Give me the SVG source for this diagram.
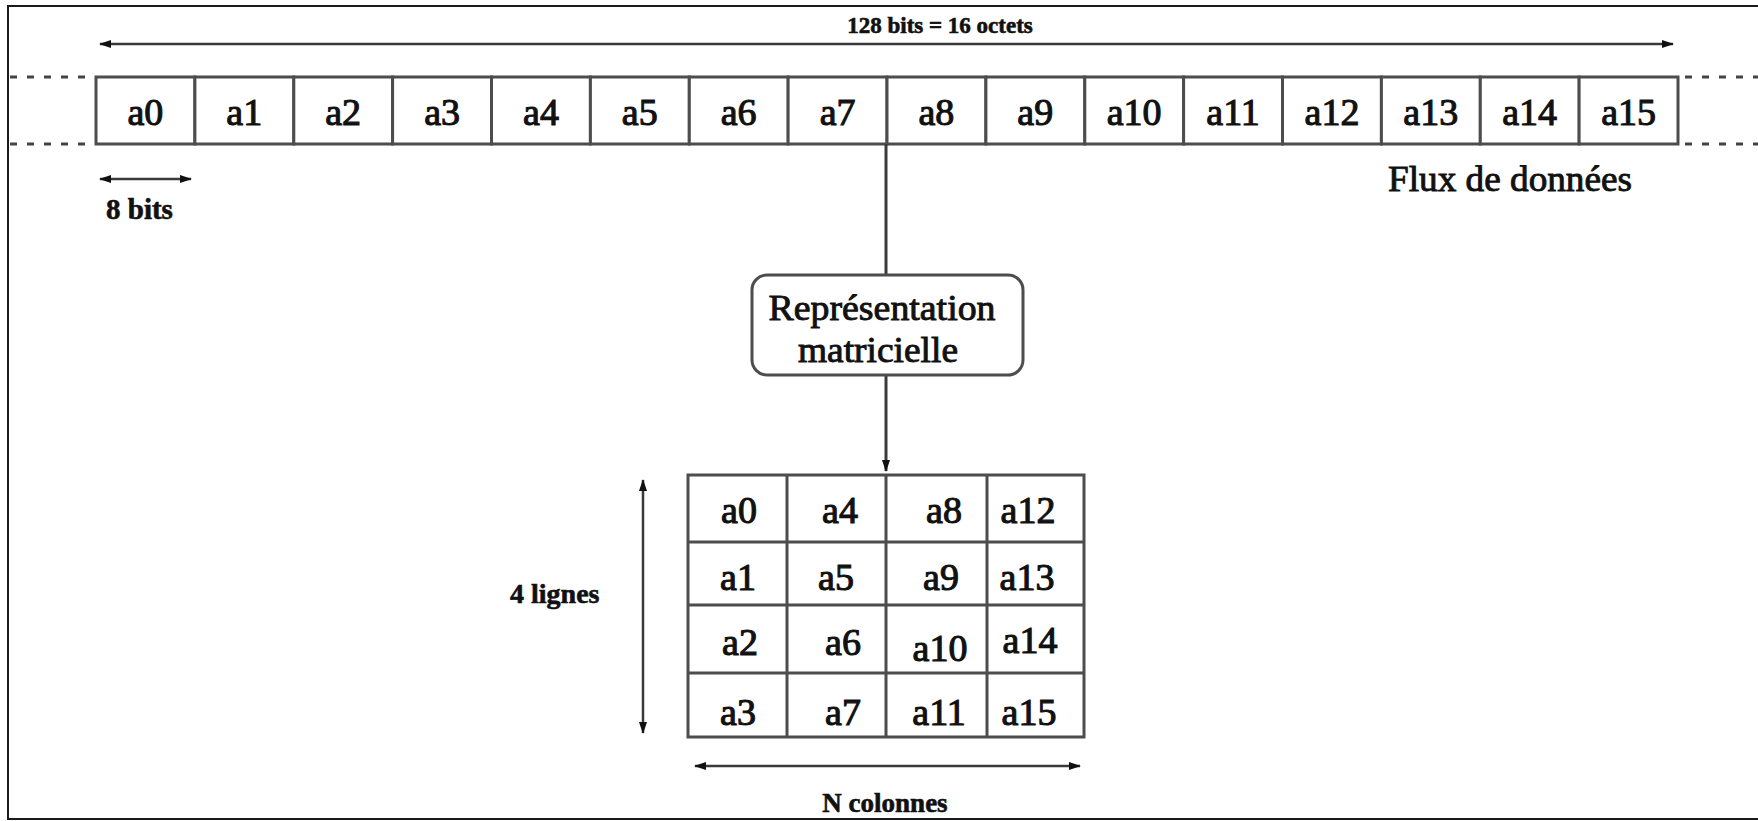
<svg xmlns="http://www.w3.org/2000/svg" width="1758" height="821" viewBox="0 0 1758 821">
  <defs>
    <marker id="ah" viewBox="0 0 12 10" refX="11" refY="5" markerWidth="12" markerHeight="10" markerUnits="userSpaceOnUse" orient="auto-start-reverse">
      <path d="M0,1 L12,5 L0,9 z" fill="#111"/>
    </marker>
    <style>
      .frame { fill: none; stroke: #1a1a1a; stroke-width: 2; }
      .cell { fill: #fff; stroke: #4d4d4d; stroke-width: 3; }
      .grid { fill: none; stroke: #4d4d4d; stroke-width: 3; }
      .dots { fill: none; stroke: #444; stroke-width: 3; stroke-dasharray: 7 10; }
      .conn { fill: none; stroke: #3a3a3a; stroke-width: 3; }
      .dim { fill: none; stroke: #3a3a3a; stroke-width: 2.5; }
      .lbl { font-family: "Liberation Serif", "Times New Roman", serif; font-size: 38px; fill: #111; stroke: #111; stroke-width: 1.1; text-anchor: middle; }
      .box-lbl { font-family: "Liberation Serif", "Times New Roman", serif; font-size: 36px; fill: #111; stroke: #111; stroke-width: 0.9; text-anchor: middle; }
      .small { font-family: "Liberation Serif", "Times New Roman", serif; font-weight: bold; fill: #111; stroke: #111; stroke-width: 0.6; }
    </style>
  </defs>

  <rect width="1758" height="821" fill="#fff"/>
  <!-- page frame (open on the right) -->
  <path class="frame" d="M1760,6 H8 V819 H1760"/>

  <!-- overall length dimension -->
  <g id="dim-total">
    <line class="dim" x1="100" y1="44" x2="1673" y2="44" marker-start="url(#ah)" marker-end="url(#ah)"/>
    <text class="small" x="940" y="33" font-size="23" text-anchor="middle">128 bits = 16 octets</text>
  </g>

  <!-- stream continues on both sides -->
  <g id="stream-edges">
    <line class="dots" x1="10" y1="77" x2="92" y2="77"/>
    <line class="dots" x1="10" y1="144" x2="92" y2="144"/>
    <line class="dots" x1="1685" y1="77" x2="1758" y2="77"/>
    <line class="dots" x1="1685" y1="144" x2="1758" y2="144"/>
  </g>

  <!-- byte stream a0..a15 -->
  <g id="stream">
    <g id="s-a0"><rect class="cell" x="96" y="77" width="98.9" height="67"/><text class="lbl" x="145.4" y="125">a0</text></g>
    <g id="s-a1"><rect class="cell" x="194.9" y="77" width="98.9" height="67"/><text class="lbl" x="244.3" y="125">a1</text></g>
    <g id="s-a2"><rect class="cell" x="293.8" y="77" width="98.9" height="67"/><text class="lbl" x="343.2" y="125">a2</text></g>
    <g id="s-a3"><rect class="cell" x="392.6" y="77" width="98.9" height="67"/><text class="lbl" x="442.1" y="125">a3</text></g>
    <g id="s-a4"><rect class="cell" x="491.5" y="77" width="98.9" height="67"/><text class="lbl" x="541" y="125">a4</text></g>
    <g id="s-a5"><rect class="cell" x="590.4" y="77" width="98.9" height="67"/><text class="lbl" x="639.8" y="125">a5</text></g>
    <g id="s-a6"><rect class="cell" x="689.3" y="77" width="98.9" height="67"/><text class="lbl" x="738.7" y="125">a6</text></g>
    <g id="s-a7"><rect class="cell" x="788.1" y="77" width="98.9" height="67"/><text class="lbl" x="837.6" y="125">a7</text></g>
    <g id="s-a8"><rect class="cell" x="887" y="77" width="98.9" height="67"/><text class="lbl" x="936.4" y="125">a8</text></g>
    <g id="s-a9"><rect class="cell" x="985.9" y="77" width="98.9" height="67"/><text class="lbl" x="1035.3" y="125">a9</text></g>
    <g id="s-a10"><rect class="cell" x="1084.8" y="77" width="98.9" height="67"/><text class="lbl" x="1134.2" y="125">a10</text></g>
    <g id="s-a11"><rect class="cell" x="1183.6" y="77" width="98.9" height="67"/><text class="lbl" x="1233.1" y="125">a11</text></g>
    <g id="s-a12"><rect class="cell" x="1282.5" y="77" width="98.9" height="67"/><text class="lbl" x="1332" y="125">a12</text></g>
    <g id="s-a13"><rect class="cell" x="1381.4" y="77" width="98.9" height="67"/><text class="lbl" x="1430.8" y="125">a13</text></g>
    <g id="s-a14"><rect class="cell" x="1480.3" y="77" width="98.9" height="67"/><text class="lbl" x="1529.7" y="125">a14</text></g>
    <g id="s-a15"><rect class="cell" x="1579.1" y="77" width="98.9" height="67"/><text class="lbl" x="1628.6" y="125">a15</text></g>
  </g>

  <!-- byte width -->
  <g id="dim-byte">
    <line class="dim" x1="100" y1="179" x2="191" y2="179" marker-start="url(#ah)" marker-end="url(#ah)"/>
    <text class="small" x="106" y="219" font-size="29">8 bits</text>
  </g>

  <text id="stream-title" class="box-lbl" x="1510" y="191" font-size="38" textLength="244" lengthAdjust="spacingAndGlyphs">Flux de données</text>

  <!-- connectors -->
  <g id="connectors">
    <line class="conn" x1="886" y1="144" x2="886" y2="275"/>
    <line class="conn" x1="886" y1="375" x2="886" y2="471" marker-end="url(#ah)"/>
  </g>

  <!-- transformation step -->
  <g id="box">
    <rect x="752" y="275" width="271" height="100" rx="15" ry="15" fill="#fff" stroke="#4d4d4d" stroke-width="3"/>
    <text class="box-lbl" x="882" y="320" textLength="227" lengthAdjust="spacingAndGlyphs">Représentation</text>
    <text class="box-lbl" x="878" y="362" textLength="160" lengthAdjust="spacingAndGlyphs">matricielle</text>
  </g>

  <!-- 4 x 4 state matrix -->
  <g id="matrix">
    <rect class="grid" x="688" y="475" width="396" height="262"/>
    <path class="grid" d="M787,475 V737 M886,475 V737 M987,475 V737 M688,542 H1084 M688,605 H1084 M688,673 H1084"/>
    <g id="m-a0"><text class="lbl" x="739" y="523">a0</text></g>
    <g id="m-a4"><text class="lbl" x="840" y="523">a4</text></g>
    <g id="m-a8"><text class="lbl" x="944" y="523">a8</text></g>
    <g id="m-a12"><text class="lbl" x="1028" y="523">a12</text></g>
    <g id="m-a1"><text class="lbl" x="738" y="590">a1</text></g>
    <g id="m-a5"><text class="lbl" x="836" y="590">a5</text></g>
    <g id="m-a9"><text class="lbl" x="941" y="590">a9</text></g>
    <g id="m-a13"><text class="lbl" x="1027" y="590">a13</text></g>
    <g id="m-a2"><text class="lbl" x="740" y="655">a2</text></g>
    <g id="m-a6"><text class="lbl" x="843" y="655">a6</text></g>
    <g id="m-a10"><text class="lbl" x="940" y="661">a10</text></g>
    <g id="m-a14"><text class="lbl" x="1030" y="653">a14</text></g>
    <g id="m-a3"><text class="lbl" x="738" y="725">a3</text></g>
    <g id="m-a7"><text class="lbl" x="843" y="725">a7</text></g>
    <g id="m-a11"><text class="lbl" x="939" y="725">a11</text></g>
    <g id="m-a15"><text class="lbl" x="1029" y="725">a15</text></g>
  </g>

  <!-- matrix dimensions -->
  <g id="dim-rows">
    <line class="dim" x1="643" y1="480" x2="643" y2="733" marker-start="url(#ah)" marker-end="url(#ah)"/>
    <text class="small" x="510" y="603" font-size="28">4 lignes</text>
  </g>
  <g id="dim-cols">
    <line class="dim" x1="695" y1="766" x2="1080" y2="766" marker-start="url(#ah)" marker-end="url(#ah)"/>
    <text class="small" x="885" y="812" font-size="27" text-anchor="middle">N colonnes</text>
  </g>
</svg>
